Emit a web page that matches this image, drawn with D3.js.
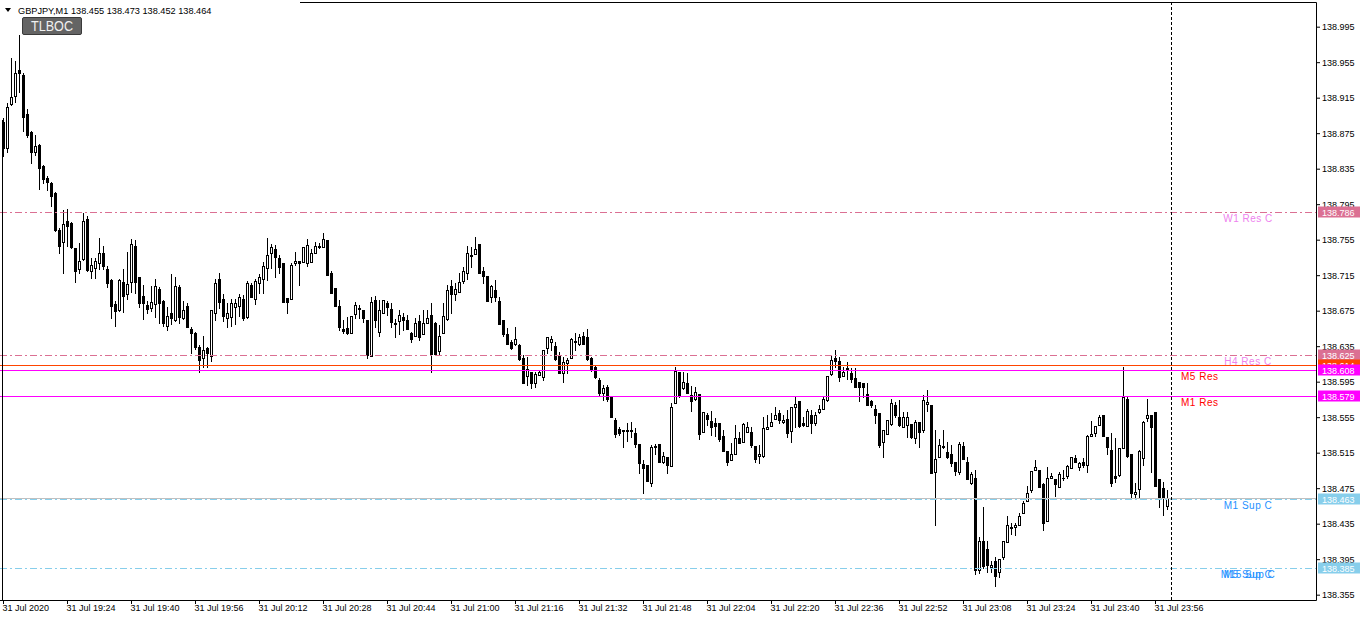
<!DOCTYPE html>
<html><head><meta charset="utf-8">
<script src="https://cdn.jsdelivr.net/npm/d3@7"></script>
<style>
body{margin:0;background:#fff;}
svg{display:block;}
text{font-family:"Liberation Sans",Arial,sans-serif;}
</style>
</head><body>
<svg id="chart" width="1362" height="621"></svg>
<script>
// ---------------- DATA ----------------
const symbolTitle = "GBPJPY,M1  138.455 138.473 138.452 138.464";
const buttonText = "TLBOC";

const opens = [
138.888,138.858,138.908,138.917,138.946,138.940,138.897,138.876,138.854,138.862,
138.838,138.824,138.819,138.808,138.766,138.752,138.776,138.774,138.746,138.722,
138.733,138.778,138.720,138.723,138.729,138.740,138.722,138.710,138.682,138.676,
138.707,138.694,138.707,138.748,138.713,138.691,138.681,138.678,138.682,138.699,
138.686,138.658,138.672,138.664,138.702,138.667,138.680,138.654,138.650,138.634,
138.622,138.633,138.624,138.672,138.711,138.688,138.667,138.668,138.679,138.680,
138.688,138.668,138.704,138.688,138.706,138.711,138.723,138.740,138.744,138.734,
138.729,138.689,138.688,138.729,138.731,138.730,138.729,138.730,138.740,138.747,
138.747,138.755,138.718,138.700,138.680,138.654,138.655,138.650,138.671,138.677,
138.676,138.665,138.624,138.687,138.651,138.672,138.684,138.677,138.661,138.663,
138.668,138.664,138.650,138.647,138.663,138.649,138.661,138.670,138.661,138.629,
138.650,138.666,138.703,138.694,138.696,138.708,138.717,138.738,138.739,138.750,
138.720,138.714,138.690,138.698,138.686,138.664,138.649,138.640,138.637,138.636,
138.622,138.601,138.606,138.593,138.602,138.600,138.633,138.640,138.635,138.624,
138.605,138.616,138.622,138.640,138.638,138.646,138.645,138.622,138.611,138.597,
138.582,138.589,138.578,138.552,138.542,138.540,138.540,138.540,138.537,138.525,
138.502,138.501,138.481,138.521,138.525,138.505,138.510,138.500,138.571,138.606,
138.588,138.593,138.580,138.576,138.581,138.538,138.558,138.551,138.548,138.548,
138.534,138.517,138.507,138.514,138.532,138.527,138.538,138.538,138.522,138.511,
138.511,138.542,138.545,138.553,138.560,138.549,138.553,138.539,138.567,138.573,
138.548,138.545,138.558,138.548,138.561,138.564,138.574,138.604,138.622,138.618,
138.601,138.610,138.605,138.599,138.595,138.593,138.581,138.573,138.564,138.560,
138.527,138.536,138.547,138.569,138.555,138.544,138.546,138.547,138.531,138.549,
138.540,138.570,138.569,138.493,138.510,138.521,138.516,138.513,138.505,138.493,
138.522,138.505,138.481,138.486,138.383,138.415,138.407,138.386,138.393,138.380,
138.398,138.414,138.430,138.431,138.433,138.447,138.460,138.473,138.496,138.496,
138.480,138.438,138.486,138.485,138.476,138.486,138.489,138.498,138.509,138.499,
138.504,138.501,138.534,138.537,138.546,138.558,138.533,138.518,138.489,138.490,
138.520,138.575,138.513,138.468,138.474,138.509,138.554,138.558,138.561,138.485,
138.475,138.455];

const highs = [
138.892,138.909,138.960,138.956,138.986,138.943,138.902,138.878,138.873,138.863,
138.839,138.827,138.820,138.809,138.768,138.788,138.789,138.775,138.746,138.751,
138.785,138.782,138.734,138.734,138.757,138.748,138.725,138.711,138.686,138.711,
138.722,138.741,138.756,138.755,138.713,138.704,138.686,138.703,138.711,138.702,
138.687,138.679,138.716,138.713,138.704,138.686,138.684,138.657,138.651,138.636,
138.647,138.634,138.676,138.711,138.717,138.694,138.684,138.688,138.688,138.694,
138.693,138.708,138.706,138.711,138.716,138.730,138.757,138.750,138.749,138.738,
138.729,138.689,138.729,138.741,138.731,138.747,138.756,138.744,138.752,138.751,
138.762,138.755,138.720,138.700,138.687,138.664,138.668,138.669,138.685,138.681,
138.676,138.665,138.690,138.691,138.687,138.687,138.686,138.684,138.666,138.676,
138.672,138.670,138.651,138.667,138.670,138.676,138.676,138.684,138.662,138.659,
138.684,138.704,138.710,138.706,138.718,138.724,138.748,138.747,138.758,138.750,
138.724,138.714,138.704,138.710,138.690,138.664,138.655,138.642,138.657,138.638,
138.625,138.623,138.606,138.606,138.607,138.631,138.645,138.647,138.640,138.628,
138.623,138.622,138.644,138.650,138.649,138.651,138.654,138.623,138.614,138.599,
138.591,138.591,138.579,138.554,138.544,138.540,138.548,138.549,138.543,138.525,
138.507,138.501,138.524,138.525,138.525,138.516,138.510,138.571,138.611,138.606,
138.606,138.605,138.590,138.589,138.581,138.561,138.560,138.562,138.554,138.548,
138.540,138.517,138.526,138.546,138.538,138.548,138.549,138.544,138.522,138.524,
138.555,138.558,138.560,138.566,138.563,138.558,138.563,138.567,138.578,138.573,
138.555,138.564,138.563,138.561,138.569,138.578,138.601,138.625,138.631,138.623,
138.611,138.617,138.610,138.610,138.595,138.593,138.593,138.574,138.569,138.560,
138.540,138.552,138.575,138.572,138.574,138.561,138.561,138.547,138.552,138.549,
138.580,138.586,138.569,138.540,138.530,138.540,138.527,138.524,138.505,138.527,
138.527,138.510,138.493,138.495,138.420,138.454,138.416,138.393,138.397,138.395,
138.415,138.444,138.436,138.436,138.447,138.460,138.477,138.494,138.507,138.496,
138.481,138.499,138.492,138.485,138.493,138.495,138.501,138.510,138.512,138.504,
138.509,138.535,138.551,138.545,138.557,138.558,138.533,138.537,138.531,138.520,
138.611,138.578,138.513,138.481,138.518,138.551,138.576,138.558,138.561,138.485,
138.482,138.473];

const lows = [
138.849,138.854,138.907,138.910,138.921,138.877,138.871,138.841,138.850,138.812,
138.819,138.811,138.793,138.765,138.740,138.718,138.748,138.746,138.707,138.718,
138.732,138.720,138.712,138.712,138.722,138.722,138.702,138.667,138.658,138.675,
138.673,138.688,138.696,138.695,138.679,138.666,138.672,138.675,138.668,138.661,
138.658,138.653,138.660,138.663,138.661,138.666,138.657,138.627,138.632,138.606,
138.611,138.611,138.618,138.664,138.678,138.663,138.657,138.658,138.660,138.669,
138.664,138.667,138.690,138.682,138.695,138.695,138.710,138.723,138.713,138.718,
138.685,138.672,138.688,138.726,138.704,138.730,138.725,138.730,138.740,138.746,
138.747,138.715,138.695,138.680,138.653,138.650,138.649,138.650,138.667,138.667,
138.662,138.622,138.624,138.657,138.647,138.672,138.670,138.657,138.645,138.649,
138.653,138.654,138.640,138.646,138.642,138.649,138.661,138.606,138.626,138.625,
138.650,138.664,138.672,138.687,138.696,138.706,138.711,138.724,138.739,138.717,
138.706,138.686,138.685,138.686,138.660,138.647,138.637,138.632,138.636,138.619,
138.593,138.591,138.588,138.589,138.602,138.597,138.627,138.631,138.619,138.605,
138.595,138.605,138.622,138.631,138.636,138.638,138.619,138.607,138.599,138.580,
138.574,138.573,138.555,138.533,138.535,138.521,138.528,138.533,138.521,138.492,
138.469,138.483,138.478,138.514,138.505,138.503,138.492,138.500,138.571,138.578,
138.587,138.582,138.562,138.574,138.530,138.538,138.546,138.535,138.534,138.528,
138.517,138.501,138.507,138.514,138.526,138.527,138.538,138.521,138.505,138.503,
138.510,138.542,138.545,138.553,138.548,138.548,138.533,138.527,138.544,138.544,
138.545,138.545,138.537,138.546,138.560,138.564,138.573,138.602,138.611,138.596,
138.601,138.598,138.595,138.589,138.573,138.578,138.569,138.566,138.548,138.521,
138.510,138.536,138.546,138.555,138.545,138.544,138.533,138.531,138.526,138.521,
138.538,138.562,138.492,138.433,138.510,138.520,138.509,138.500,138.490,138.491,
138.508,138.485,138.480,138.378,138.379,138.385,138.380,138.380,138.365,138.375,
138.395,138.414,138.423,138.422,138.433,138.447,138.460,138.471,138.496,138.476,
138.428,138.438,138.486,138.466,138.476,138.484,138.487,138.498,138.504,138.495,
138.499,138.493,138.534,138.534,138.546,138.534,138.514,138.477,138.482,138.489,
138.520,138.510,138.465,138.464,138.464,138.501,138.551,138.493,138.477,138.454,
138.445,138.452];

const closes = [
138.858,138.904,138.916,138.943,138.943,138.893,138.873,138.854,138.860,138.836,
138.823,138.820,138.804,138.766,138.748,138.773,138.770,138.747,138.720,138.731,
138.776,138.721,138.726,138.731,138.740,138.725,138.706,138.680,138.675,138.710,
138.691,138.705,138.750,138.707,138.684,138.684,138.677,138.685,138.703,138.684,
138.661,138.669,138.667,138.703,138.668,138.676,138.657,138.650,138.634,138.619,
138.631,138.627,138.676,138.706,138.685,138.669,138.672,138.684,138.684,138.690,
138.667,138.706,138.690,138.708,138.713,138.725,138.738,138.747,138.736,138.724,
138.685,138.685,138.727,138.731,138.729,138.747,138.749,138.740,138.748,138.748,
138.756,138.715,138.695,138.680,138.657,138.652,138.650,138.669,138.681,138.678,
138.667,138.625,138.685,138.664,138.676,138.687,138.679,138.662,138.660,138.670,
138.665,138.654,138.643,138.661,138.645,138.661,138.667,138.626,138.626,138.647,
138.669,138.698,138.694,138.699,138.707,138.720,138.740,138.737,138.744,138.717,
138.714,138.686,138.703,138.690,138.660,138.649,138.638,138.633,138.643,138.620,
138.593,138.609,138.593,138.604,138.606,138.631,138.645,138.643,138.620,138.605,
138.617,138.619,138.643,138.641,138.645,138.638,138.620,138.608,138.600,138.582,
138.588,138.575,138.555,138.536,138.537,138.539,138.539,138.539,138.525,138.503,
138.498,138.483,138.521,138.522,138.505,138.511,138.501,138.567,138.607,138.579,
138.595,138.582,138.573,138.583,138.536,138.561,138.553,138.544,138.545,138.530,
138.517,138.504,138.513,138.531,138.526,138.547,138.544,138.524,138.508,138.514,
138.543,138.544,138.550,138.558,138.552,138.552,138.537,138.567,138.570,138.545,
138.546,138.562,138.548,138.558,138.564,138.576,138.601,138.619,138.618,138.600,
138.606,138.608,138.598,138.589,138.589,138.589,138.569,138.569,138.558,138.524,
138.540,138.552,138.571,138.557,138.546,138.555,138.555,138.533,138.549,138.538,
138.574,138.572,138.492,138.508,138.524,138.522,138.510,138.503,138.494,138.525,
138.508,138.485,138.491,138.383,138.416,138.387,138.388,138.388,138.376,138.395,
138.415,138.433,138.431,138.433,138.444,138.458,138.469,138.494,138.499,138.476,
138.436,138.487,138.489,138.480,138.491,138.487,138.500,138.510,138.504,138.503,
138.501,138.534,138.536,138.545,138.555,138.534,138.521,138.481,138.487,138.520,
138.578,138.511,138.469,138.471,138.517,138.549,138.557,138.544,138.477,138.464,
138.464,138.464];

const timeLabelBars = [0,16,32,48,64,80,96,112,128,144,160,176,192,208,224,240,256,272,288];
const timeLabels = ["31 Jul 2020","31 Jul 19:24","31 Jul 19:40","31 Jul 19:56","31 Jul 20:12",
  "31 Jul 20:28","31 Jul 20:44","31 Jul 21:00","31 Jul 21:16","31 Jul 21:32","31 Jul 21:48",
  "31 Jul 22:04","31 Jul 22:20","31 Jul 22:36","31 Jul 22:52","31 Jul 23:08","31 Jul 23:24",
  "31 Jul 23:40","31 Jul 23:56"];
const separatorBar = 292;

const priceTicks = [138.995,138.955,138.915,138.875,138.835,138.795,138.755,138.715,138.675,
  138.635,138.595,138.555,138.515,138.475,138.435,138.395,138.355];
const priceTickLabels = ["138.995","138.955","138.915","138.875","138.835","138.795","138.755",
  "138.715","138.675","138.635","138.595","138.555","138.515","138.475","138.435","138.395","138.355"];

const levelKeys   = ["W1","H4","OR","M5R","M1R","M1S","M15S","M5S"];
const levelLabels = ["W1 Res C","H4 Res C","","M5 Res","M1 Res","M1 Sup C","M15 Sup C","M5 Sup C"];
const levelPrices = [138.786,138.625,138.614,138.608,138.579,138.463,138.385,138.385];
const boxPrices   = [138.786,138.625,138.614,138.608,138.579,138.463,138.385];
const boxLabels   = ["138.786","138.625","138.614","138.608","138.579","138.463","138.385"];
const bidPrice = 138.464;

// ---------------- STYLES ----------------
const PVR = "#db7093", MAG = "#ff00ff", SKY = "#87ceeb", ORR = "#ff4500";
const levelStyle = {
  W1:  {stroke:PVR, dash:"7,3,2,3", text:"#ee82ee", anchor:"middle", tx:1248},
  H4:  {stroke:PVR, dash:"7,3,2,3", text:"#ee82ee", anchor:"middle", tx:1248},
  OR:  {stroke:ORR, dash:null, text:null},
  M5R: {stroke:MAG, dash:null, text:"#ff0000", anchor:"start", tx:1181},
  M1R: {stroke:MAG, dash:null, text:"#ff0000", anchor:"start", tx:1181},
  M1S: {stroke:SKY, dash:"7,3,2,3", text:"#1e90ff", anchor:"middle", tx:1248},
  M15S:{stroke:SKY, dash:"7,3,2,3", text:"#1e90ff", anchor:"middle", tx:1248},
  M5S: {stroke:SKY, dash:"7,3,2,3", text:"#1e90ff", anchor:"middle", tx:1248}
};
const boxFill = [PVR, PVR, ORR, MAG, MAG, SKY, SKY];

// ---------------- CHART ----------------
const svg = d3.select("#chart");
const plotRight = 1316, plotBottom = 600, plotTop = 2;
const nBars = opens.length;

const x = d3.scaleLinear().domain([0, 292]).range([3, 3 + 4 * 292]);
const y = d3.scaleLinear().domain([138.349, 139.0228]).range([plotBottom, plotTop]);
const px = i => x(i) + 0.5;
const py = v => Math.round(y(v)) + 0.5;

svg.append("rect").attr("width", 1362).attr("height", 621).attr("fill", "#fff");

const bars = d3.range(nBars).map(i => ({i, o:opens[i], h:highs[i], l:lows[i], c:closes[i]}));

const cg = svg.append("g");
cg.selectAll("line.wick").data(bars).join("line").attr("class","wick")
  .attr("x1", d => px(d.i)).attr("x2", d => px(d.i))
  .attr("y1", d => py(d.h) - 0.5).attr("y2", d => py(d.l) + 0.5)
  .attr("stroke", "#000").attr("stroke-width", 1);
cg.selectAll("rect.body").data(bars).join("rect").attr("class","body")
  .attr("x", d => px(d.i) - 1).attr("width", 2)
  .attr("y", d => py(Math.max(d.o, d.c)))
  .attr("height", d => Math.max(py(Math.min(d.o, d.c)) - py(Math.max(d.o, d.c)), 0.01))
  .attr("fill", d => d.c < d.o ? "#000" : "#fff")
  .attr("stroke", "#000").attr("stroke-width", 1);

// level lines
const lg = svg.append("g");
lg.append("line").attr("x1", 0).attr("x2", plotRight).attr("y1", py(bidPrice)).attr("y2", py(bidPrice))
  .attr("stroke", "#c0c0c0");
levelPrices.forEach((p, k) => {
  const st = levelStyle[levelKeys[k]];
  const ln = lg.append("line").attr("x1", 0).attr("x2", plotRight)
    .attr("y1", py(p)).attr("y2", py(p)).attr("stroke", st.stroke).attr("stroke-width", 1);
  if (st.dash) ln.attr("stroke-dasharray", st.dash);
});

// period separator
svg.append("line").attr("x1", px(separatorBar)).attr("x2", px(separatorBar))
  .attr("y1", plotTop).attr("y2", plotBottom)
  .attr("stroke", "#000").attr("stroke-dasharray", "3,2");

// frame
svg.append("line").attr("x1", 0).attr("x2", plotRight + 0.5).attr("y1", plotBottom + 0.5).attr("y2", plotBottom + 0.5).attr("stroke", "#000");
svg.append("line").attr("x1", plotRight + 0.5).attr("x2", plotRight + 0.5).attr("y1", plotTop + 0.5).attr("y2", plotBottom + 0.5).attr("stroke", "#000");
svg.append("line").attr("x1", 300).attr("x2", plotRight + 0.5).attr("y1", plotTop + 0.5).attr("y2", plotTop + 0.5).attr("stroke", "#000");
svg.append("line").attr("x1", 2.5).attr("x2", 2.5).attr("y1", 120).attr("y2", plotBottom + 0.5).attr("stroke", "#000");

// right axis
const ya = svg.append("g").attr("transform", `translate(${plotRight},0)`)
  .call(d3.axisRight(y).tickValues(priceTicks).tickFormat((d, i) => priceTickLabels[i]).tickSize(4).tickPadding(2));
ya.select(".domain").remove();
ya.selectAll("text").attr("font-family", "Liberation Sans, Arial, sans-serif").attr("font-size", 9).attr("fill", "#000");
ya.selectAll("line").attr("stroke", "#000");

// bottom axis
const xa = svg.append("g").attr("transform", `translate(0,${plotBottom})`)
  .call(d3.axisBottom(x).tickValues(timeLabelBars).tickFormat((d, i) => timeLabels[i]).tickSize(4).tickPadding(1));
xa.select(".domain").remove();
xa.selectAll("text").attr("font-family", "Liberation Sans, Arial, sans-serif").attr("font-size", 9)
  .attr("fill", "#000").attr("text-anchor", "start").attr("dx", -1);
xa.selectAll("line").attr("stroke", "#000");

// price boxes
boxPrices.forEach((p, k) => {
  const cy = Math.round(y(p));
  svg.append("rect").attr("x", 1318).attr("y", cy - 5.5).attr("width", 42).attr("height", 11).attr("fill", boxFill[k]);
  svg.append("text").attr("x", 1322).attr("y", cy + 3.5).attr("font-size", 9).attr("fill", "#fff").text(boxLabels[k]);
});

// level labels
levelPrices.forEach((p, k) => {
  const st = levelStyle[levelKeys[k]];
  if (!st.text || !levelLabels[k]) return;
  svg.append("text").attr("x", st.tx).attr("y", Math.round(y(p)) + 10)
    .attr("text-anchor", st.anchor).attr("font-size", 10).attr("letter-spacing", 0.5)
    .attr("fill", st.text).text(levelLabels[k]);
});

// header
svg.append("path").attr("d", "M5,8 L11,8 L8,12 Z").attr("fill", "#000");
svg.append("text").attr("x", 18).attr("y", 14).attr("font-size", 9.2).attr("fill", "#000").text(symbolTitle);
svg.append("rect").attr("x", 22.5).attr("y", 17.5).attr("width", 59).attr("height", 17).attr("rx", 1.5)
  .attr("fill", "#646464").attr("stroke", "#3a3a3a");
svg.append("text").attr("x", 52).attr("y", 31).attr("text-anchor", "middle").attr("font-size", 14)
  .attr("textLength", 42).attr("lengthAdjust", "spacingAndGlyphs").attr("fill", "#f0f0f0").text(buttonText);
</script>
</body></html>
